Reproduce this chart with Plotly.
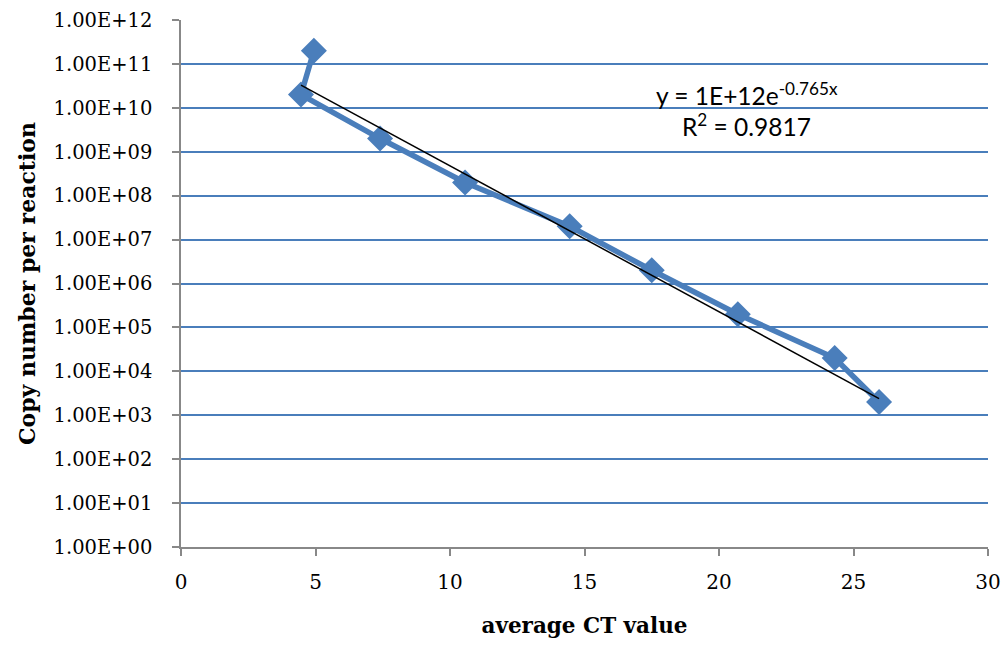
import plotly.graph_objects as go
import numpy as np

ct_values = [4.94, 4.46, 7.4, 10.56, 14.45, 17.5, 20.7, 24.3, 25.95]
copy_numbers = [2e11, 2e10, 2e9, 2e8, 2e7, 2e6, 2e5, 2e4, 2e3]
y_tick_vals = [1e0, 1e1, 1e2, 1e3, 1e4, 1e5, 1e6, 1e7, 1e8, 1e9, 1e10, 1e11, 1e12]
y_tick_text = ["1.00E+00", "1.00E+01", "1.00E+02", "1.00E+03", "1.00E+04", "1.00E+05",
               "1.00E+06", "1.00E+07", "1.00E+08", "1.00E+09", "1.00E+10", "1.00E+11", "1.00E+12"]
x_tick_vals = [0, 5, 10, 15, 20, 25, 30]
trend_a = 1e12
trend_b = -0.765

blue = "#4a7ebb"
serif = "DejaVu Serif, Liberation Serif, serif"
sans = "Lato, Open Sans, sans-serif"

tx = np.linspace(min(ct_values), max(ct_values), 50)
ty = trend_a * np.exp(trend_b * tx)

fig = go.Figure()
fig.add_trace(go.Scatter(x=ct_values, y=copy_numbers, mode="lines+markers",
                         line=dict(color=blue, width=5.5),
                         marker=dict(symbol="diamond", size=20, color=blue),
                         showlegend=False))
fig.add_trace(go.Scatter(x=tx, y=ty, mode="lines",
                         line=dict(color="black", width=1.5), showlegend=False))

fig.update_layout(
    width=1005, height=645,
    margin=dict(l=181, r=17, t=20, b=98),
    paper_bgcolor="white", plot_bgcolor="white",
    font=dict(family=serif, color="black", size=20),
    xaxis=dict(range=[0, 30], tickvals=x_tick_vals, showgrid=False, automargin=False,
               showline=True, linecolor="#888888", linewidth=1.5,
               ticks="outside", tickcolor="#888888", ticklen=7, tickwidth=1.5,
               ticklabelstandoff=9,
               zeroline=False, tickfont=dict(size=20, family=serif),
               title=dict(text="<b>average CT value</b>", font=dict(size=21.5, family=serif), standoff=25)),
    yaxis=dict(type="log", range=[0, 12], tickvals=y_tick_vals, ticktext=y_tick_text,
               showgrid=True, gridcolor=blue, gridwidth=1.5, automargin=False,
               showline=True, linecolor="#888888", linewidth=1.5,
               ticks="outside", tickcolor="#888888", ticklen=7, tickwidth=1.5,
               ticklabelstandoff=16,
               zeroline=False, tickfont=dict(size=19.5, family=serif),
               title=dict(text="<b>Copy number per reaction</b>", font=dict(size=22, family=serif), standoff=12)),
)

fig.add_annotation(x=0.701, y=0.86, xref="paper", yref="paper", xanchor="center", yanchor="middle",
                   text="y = 1E+12e<sup>-0.765x</sup>", showarrow=False,
                   font=dict(size=24.5, family=sans, color="black"))
fig.add_annotation(x=0.701, y=0.80, xref="paper", yref="paper", xanchor="center", yanchor="middle",
                   text="R<sup>2</sup> = 0.9817", showarrow=False,
                   font=dict(size=24.5, family=sans, color="black"))

fig.write_html("out.html", config={"displayModeBar": False},
               post_script="document.body.style.margin='0';document.body.style.overflow='hidden';")
